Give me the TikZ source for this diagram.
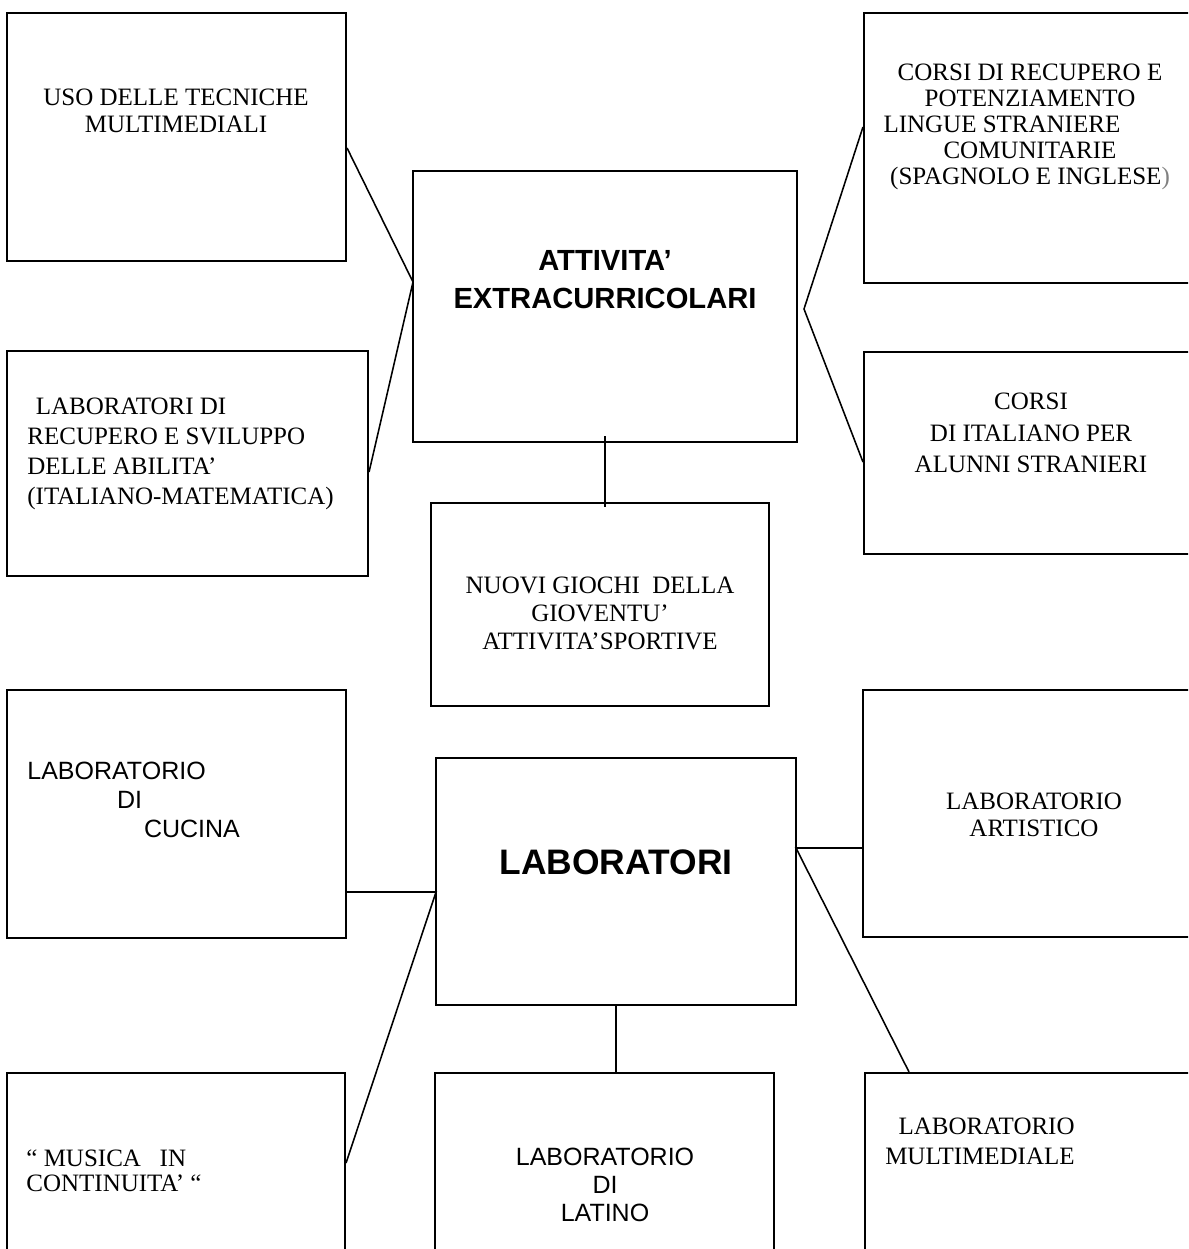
\documentclass[tikz,border=0pt]{standalone}
\usepackage{fontspec}
\setmainfont{Liberation Serif}
\setsansfont{Liberation Sans}

\begin{document}
\begin{tikzpicture}
[x=0.48pt,y=-0.48pt,%
  lineDecorate/.style={-,line width=0.75pt},%
  boxDecorate/.style={shape=rectangle,draw,line width=1pt,inner sep=0pt},%
  romanText/.style={font=\fontsize{12}{#1}\selectfont,inner sep=0pt},%
  romanText/.default=13.8,%
  sansText/.style={font=\sffamily\fontsize{12}{#1}\selectfont,inner sep=0pt},%
  sansText/.default=13.8,%
  titleText/.style={font=\sffamily\bfseries\fontsize{#1}{18.2}\selectfont,inner sep=0pt,align=center}]
\useasboundingbox (0,0) rectangle (1188,1249);
\clip (0,0) rectangle (1188,1249);
%% boxes
\foreach \nodename/\xa/\ya/\xb/\yb in {uso/7/13/346/261, corsiRec/864/13/1196/283,
  attivita/413/171/797/442, labRec/7/351/368/576, corsiIta/864/352/1196/554,
  nuovi/431/503/769/706, cucina/7/690/346/938, lab/436/758/796/1005,
  artistico/863/690/1196/937, musica/7/1073/345/1262, latino/435/1073/774/1262,
  multimed/865/1073/1196/1262}
{
  \node (\nodename) at ({(\xa+\xb)/2},{(\ya+\yb)/2}) [boxDecorate,minimum width={(\xb-\xa)*0.48pt},minimum height={(\yb-\ya)*0.48pt}] {};
}
%% texts
\node (attivitaText) at (605,280) [titleText=14] {ATTIVITA’\\EXTRACURRICOLARI};
\node (labText) at (616,862) [titleText=17] {LABORATORI};
\node (usoText) at (176,111) [romanText=13,align=center] {USO DELLE TECNICHE\\MULTIMEDIALI};
\node (corsiRecText) at (1030,127) [romanText=12.4,align=center] {CORSI DI RECUPERO E\\POTENZIAMENTO\\LINGUE STRANIERE\hspace*{27pt}\mbox{}\\COMUNITARIE\\(SPAGNOLO E INGLESE\textcolor{gray}{)}};
\node (labRecText) at (27,454) [romanText=14.4,anchor=west,align=left] {\hspace*{4pt}LABORATORI DI\\RECUPERO E SVILUPPO\\DELLE ABILITA’\\(ITALIANO-MATEMATICA)};
\node (corsiItaText) at (1031,433) [romanText=15.1,align=center] {CORSI\\DI ITALIANO PER\\ALUNNI STRANIERI};
\node (nuoviText) at (600,613) [romanText=13.4,align=center] {NUOVI GIOCHI\ \ DELLA\\GIOVENTU’\\ATTIVITA’SPORTIVE};
\node (cucinaText) at (27,800) [sansText=13.9,anchor=west,align=left] {LABORATORIO\\\hspace*{43pt}DI\\\hspace*{56pt}CUCINA};
\node (artisticoText) at (1034,815) [romanText=13,align=center] {LABORATORIO\\ARTISTICO};
\node (musicaText) at (26,1171) [romanText=12,anchor=west,align=left] {“ MUSICA\ \ \ IN\\CONTINUITA’ “};
\node (latinoText) at (605,1185) [sansText=13.4,align=center] {LABORATORIO\\DI\\LATINO};
\node (multimedText) at (1075,1141) [romanText=14.4,anchor=east,align=right] {LABORATORIO\\MULTIMEDIALE};
%% connectors
\coordinate (attW) at (413,282);
\coordinate (attE) at (804,309);
\coordinate (labW) at (436,892);
\coordinate (labE) at (796,848);
\draw[lineDecorate] (uso.east |- 0,148) -- (attW) -- (labRec.east |- 0,472);
\draw[lineDecorate] (corsiRec.west |- 0,127) -- (attE) -- (corsiIta.west |- 0,462);
\draw[lineDecorate] (attivita.south) ++(0,-7) -- (attivita.south |- nuovi.north) -- ++(0,5);
\draw[lineDecorate] (cucina.east |- labW) -- (labW) -- (musica.east |- 0,1163);
\draw[lineDecorate] (artistico.west |- labE) -- (labE) -- (multimed.north -| 909,0);
\draw[lineDecorate] (lab.south) -- (lab.south |- latino.north);
\end{tikzpicture}
\end{document}
